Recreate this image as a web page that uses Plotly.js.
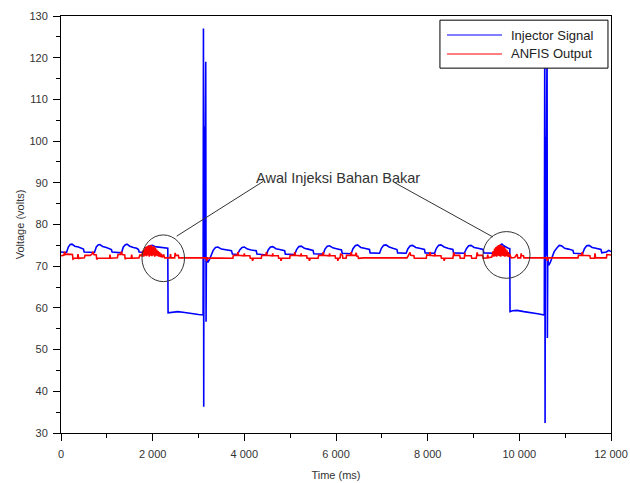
<!DOCTYPE html>
<html>
<head>
<meta charset="utf-8">
<script src="https://cdn.plot.ly/plotly-3.0.1.min.js"></script>
<style>html,body{margin:0;padding:0;background:#fff;}#chart{width:630px;height:483px;}</style>
</head>
<body>
<div id="chart"></div>
<script>
// ---- Series: Injector Signal (time ms, volts) ----
const injectorTime = [
0,120,160,200,240,300,380,450,490,505,730,770,810,850,910,990,1060,1100,1115,1320,1360,1400,1440,1500,1580,1650,1690,1705,1860,1900,1940,1990,2050,2120,2200,2280,2330,
2336,2450,2550,2700,2850,3000,3100,
3108,3114,3120,3126,3132,3158,3165,3172,
3190,3205,3240,3280,3320,3370,3425,3500,3580,3660,3720,3740,3850,
3900,3950,4000,4070,4150,4230,4260,4275,4480,
4520,4570,4620,4690,4770,4850,4880,4895,5100,
5140,5190,5240,5310,5390,5470,5500,5515,5720,
5760,5810,5860,5930,6010,6090,6120,6135,6330,
6370,6420,6470,6540,6620,6700,6730,6745,6950,
6990,7040,7090,7160,7240,7300,7330,7345,7530,
7570,7620,7670,7740,7820,7900,7930,7945,8150,
8190,8240,8290,8360,8440,8520,8550,8565,8800,
8845,8895,8945,9015,9100,9180,9210,9225,9460,
9490,9530,9580,9620,9660,9700,9760,9792,
9797,9850,9950,10100,10250,10400,10545,
10555,10562,10568,10574,10580,10605,10612,10620,
10640,10680,10720,10760,10815,10870,10920,10990,11070,11140,11170,11185,11380,
11420,11470,11520,11590,11670,11750,11780,11800,11900,11950,12000
];
const injectorVolts = [
73.4,73.3,74.6,75.2,75.3,74.8,74.6,74.3,74.1,73.4,73.3,74.6,75.1,75.2,74.7,74.5,74.2,74.0,73.4,73.2,74.6,75.1,75.3,74.8,74.5,74.3,74.0,73.4,73.3,74.5,74.9,75.0,74.7,74.6,74.5,74.4,74.3,
58.8,59.0,59.1,58.9,58.6,58.4,58.3,
127.0,36.3,103.5,99.0,72.0,119.0,56.7,72.0,
72.0,70.9,71.6,72.8,73.8,74.5,74.6,74.1,74.0,73.8,73.7,72.9,72.8,
73.9,74.5,74.6,74.1,73.9,73.8,73.7,72.9,72.7,
73.9,74.6,74.7,74.2,74.0,73.8,73.7,72.9,72.8,
74.0,74.7,74.8,74.3,74.1,73.9,73.8,73.0,72.9,
74.1,74.8,74.9,74.4,74.2,74.0,73.9,73.1,73.0,
74.2,74.9,75.1,74.5,74.3,74.1,74.0,73.2,73.1,
74.3,75.0,75.1,74.6,74.3,74.1,74.0,73.2,73.1,
74.2,74.9,75.0,74.5,74.3,74.1,74.0,73.2,73.1,
74.3,75.0,75.1,74.6,74.3,74.1,74.0,73.2,73.1,
74.2,74.9,75.0,74.5,74.3,74.1,74.0,73.2,73.1,
73.3,74.3,75.0,75.3,74.9,74.6,74.3,74.2,
59.1,59.3,59.4,59.1,58.9,58.6,58.3,
127.5,32.4,101.0,98.0,72.5,124.0,52.8,72.0,
70.2,71.0,72.3,73.5,74.3,75.0,74.9,74.3,74.1,73.9,73.8,73.1,73.0,
74.2,74.9,75.0,74.5,74.3,74.1,74.0,73.2,73.4,73.8,73.5
];

// ---- Series: ANFIS Output (time ms, volts) ----
const anfisTime = [
0,60,80,95,150,250,262,290,360,371,385,510,524,640,676,700,715,770,780,800,1060,1069,1080,1230,1244,1300,1320,1335,1390,1400,1420,1530,1542,1555,1700,1724,1760,
1790,1805,1820,1835,1850,1865,1880,1895,1910,1925,1940,1955,1970,1985,2000,2015,2030,2045,2060,2075,2090,2105,2120,2135,2150,2170,2190,2210,2240,2260,
2380,2390,2400,2480,2490,2500,2560,2570,3170,3180,3195,3750,
3760,3850,3860,3875,3990,4000,4010,4120,4130,4170,4180,4200,
4370,4380,4470,4480,4495,4610,4620,4630,4740,4750,4790,4800,4820,
4990,5000,5090,5100,5115,5230,5240,5250,5360,5370,5410,5420,5440,
5610,5620,5710,5720,5735,5850,5860,5870,5980,5990,6030,6040,6060,
6090,6100,6140,6150,6220,6230,6320,6330,6345,6420,6440,6455,6480,6490,6600,
7550,7600,7615,7630,7700,7710,
7970,7980,8040,8050,8065,8150,8160,8170,8290,8300,8350,8360,8380,
8550,8555,8570,8585,8700,8710,8800,8810,8820,8950,8960,9060,9070,9080,9095,9200,9210,9300,9310,9320,9400,
9430,9445,9460,9475,9490,9505,9520,9535,9550,9565,9580,9595,9610,9625,9640,9655,9670,9685,9700,9715,9730,9745,9760,9775,9790,
9820,9900,9950,9965,10030,10040,10050,10090,10100,10600,10610,10625,11280,
11290,11360,11370,11385,11540,11550,11640,11650,11665,11900,11910,12000
];
const anfisVolts = [
72.5,72.6,73.5,72.8,72.9,72.8,71.7,71.9,71.9,72.9,71.9,72.0,72.6,72.6,72.9,73.5,72.8,72.7,71.6,71.9,71.9,72.8,71.9,72.0,72.8,72.8,73.5,72.8,72.7,71.7,71.9,71.9,72.8,71.9,72.0,72.7,72.5,
73.8,72.3,74.2,72.5,74.6,72.4,74.8,72.6,75.0,72.3,74.9,72.5,75.1,72.4,74.7,72.6,74.8,72.3,74.4,72.5,74.0,72.4,73.6,72.3,73.4,72.2,73.0,72.1,72.8,72.0,
72.0,72.9,72.0,72.0,73.2,72.6,72.6,72.0,72.0,71.2,72.0,71.9,
72.6,72.6,73.4,72.6,72.5,73.1,72.5,72.5,71.9,71.9,71.3,71.9,
71.9,72.6,72.6,73.4,72.6,72.5,73.1,72.5,72.5,71.9,71.9,71.3,71.9,
71.9,72.6,72.6,73.4,72.6,72.5,73.1,72.5,72.5,71.9,71.9,71.3,71.9,
71.9,72.6,72.6,73.4,72.6,72.5,73.1,72.5,72.5,71.9,71.9,71.3,71.9,
72.0,72.9,72.7,71.9,71.9,72.6,72.6,73.4,72.6,72.6,73.2,72.4,72.4,71.9,72.0,
72.0,72.8,73.3,72.6,72.5,71.9,
71.9,72.7,72.6,73.4,72.6,72.5,73.0,72.5,72.5,71.9,71.9,71.3,71.9,
71.9,72.8,73.3,72.6,72.6,71.9,71.9,73.2,72.5,72.5,71.9,71.9,72.8,73.3,72.6,72.6,71.9,72.0,72.8,72.0,72.2,
73.6,72.3,74.2,72.4,74.6,72.3,74.9,72.5,75.1,72.4,75.2,72.3,75.0,72.5,74.8,72.4,74.6,72.3,74.2,72.4,73.8,72.3,73.4,72.2,72.9,
72.0,72.1,72.9,72.0,72.0,73.1,72.5,72.5,72.0,72.0,71.3,72.0,72.0,
72.6,72.6,73.4,72.6,72.5,71.9,71.9,73.1,72.0,72.0,72.8,72.7
];

// ---- Labels ----
const seriesNames = ["Injector Signal", "ANFIS Output"];
const seriesColors = ["#0000ff", "#ff0000"];
const annotationText = "Awal Injeksi Bahan Bakar";
const xTitle = "Time (ms)";
const yTitle = "Voltage (volts)";

const FONT = "Liberation Sans, Arial, sans-serif";

const traces = [
  {x: injectorTime, y: injectorVolts, name: seriesNames[0], type: "scatter", mode: "lines",
   line: {color: seriesColors[0], width: 1.6}},
  {x: anfisTime, y: anfisVolts, name: seriesNames[1], type: "scatter", mode: "lines",
   line: {color: seriesColors[1], width: 1.6}}
];

const layout = {
  width: 630, height: 483,
  margin: {l: 61, r: 19, t: 16, b: 50},
  paper_bgcolor: "#fff", plot_bgcolor: "#fff",
  showlegend: false,
  separators: ". ",
  font: {family: FONT, size: 11, color: "#333"},
  xaxis: {
    range: [0, 12000], dtick: 2000, tick0: 0,
    exponentformat: "none", separatethousands: true,
    ticks: "outside", ticklen: 7, tickcolor: "#000", ticklabelstandoff: 4,
    minor: {dtick: 1000, ticks: "outside", ticklen: 4, tickcolor: "#000"},
    showline: true, linecolor: "#000", linewidth: 1, mirror: true,
    showgrid: false, zeroline: false,
    tickfont: {family: FONT, size: 11, color: "#333"},
    title: {text: xTitle, font: {family: FONT, size: 11, color: "#333"}, standoff: 12}
  },
  yaxis: {
    range: [30, 130], dtick: 10, tick0: 30,
    ticks: "outside", ticklen: 7, tickcolor: "#000", ticklabelstandoff: 3,
    minor: {dtick: 5, ticks: "outside", ticklen: 4, tickcolor: "#000"},
    showline: true, linecolor: "#000", linewidth: 1, mirror: true,
    showgrid: false, zeroline: false,
    tickfont: {family: FONT, size: 11, color: "#333"},
    title: {text: yTitle, font: {family: FONT, size: 11, color: "#333"}, standoff: 2}
  },
  shapes: [
    // highlight circles
    {type: "circle", xref: "x", yref: "y", x0: 1767, x1: 2695, y0: 66.3, y1: 77.5, line: {color: "#333", width: 1}},
    {type: "circle", xref: "x", yref: "y", x0: 9207, x1: 10233, y0: 67.1, y1: 78.3, line: {color: "#333", width: 1}},
    // pointer lines
    {type: "line", xref: "x", yref: "y", x0: 2524, y0: 77.2, x1: 4407, y1: 90.3, line: {color: "#333", width: 1}},
    {type: "line", xref: "x", yref: "y", x0: 7287, y0: 90.0, x1: 9425, y1: 77.0, line: {color: "#333", width: 1}},
    // legend box
    {type: "rect", xref: "paper", yref: "paper", x0: 0.689, x1: 0.9945, y0: 0.875, y1: 0.990,
     fillcolor: "#fff", line: {color: "#000", width: 1}},
    {type: "line", xref: "paper", yref: "paper", x0: 0.7018, x1: 0.8018, y0: 0.9544, y1: 0.9544, line: {color: seriesColors[0], width: 1.2}},
    {type: "line", xref: "paper", yref: "paper", x0: 0.7018, x1: 0.8018, y0: 0.9089, y1: 0.9089, line: {color: seriesColors[1], width: 1.2}}
  ],
  annotations: [
    {x: 6044, y: 91.15, xref: "x", yref: "y", text: annotationText, showarrow: false,
     font: {family: FONT, size: 14.5, color: "#333"}},
    {x: 0.815, y: 0.9544, xref: "paper", yref: "paper", text: seriesNames[0], showarrow: false,
     xanchor: "left", yanchor: "middle", font: {family: FONT, size: 13, color: "#222"}},
    {x: 0.815, y: 0.9089, xref: "paper", yref: "paper", text: seriesNames[1], showarrow: false,
     xanchor: "left", yanchor: "middle", font: {family: FONT, size: 13, color: "#222"}}
  ]
};

Plotly.newPlot("chart", traces, layout, {displayModeBar: false, staticPlot: true});
</script>
</body>
</html>
